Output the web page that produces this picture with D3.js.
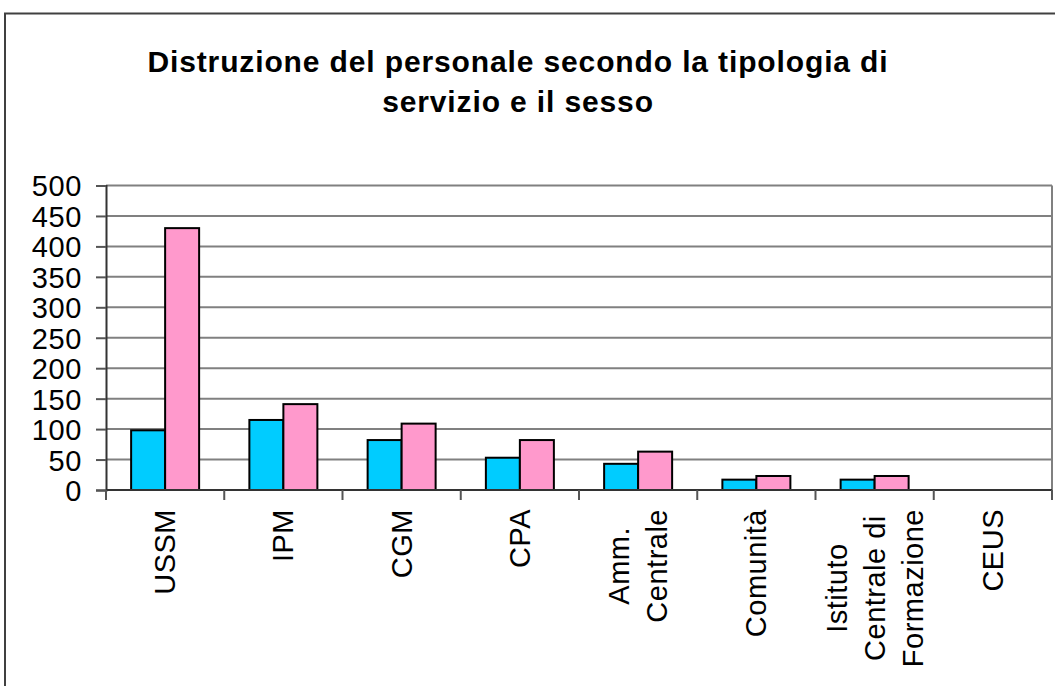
<!DOCTYPE html>
<html>
<head>
<meta charset="utf-8">
<script src="https://cdn.jsdelivr.net/npm/d3@7"></script>
<style>
  body { margin: 0; background: #fff; }
  svg { display: block; font-family: "Liberation Sans", Arial, sans-serif; }
</style>
</head>
<body>
<div id="chart"></div>
<script>
// chart data
var categories = ["USSM", "IPM", "CGM", "CPA", "Amm. Centrale", "Comunità",
                  "Istituto Centrale di Formazione", "CEUS"];
// how each category label wraps
var labelLines = [["USSM"], ["IPM"], ["CGM"], ["CPA"], ["Amm.", "Centrale"],
                  ["Comunità"], ["Istituto", "Centrale di", "Formazione"], ["CEUS"]];
var seriesNames = ["Maschi", "Femmine"];
var maschi  = [98, 115, 82, 53, 43, 17, 17, 0];
var femmine = [430, 141, 109, 82, 63, 23, 23, 0];
var yTicks = [0, 50, 100, 150, 200, 250, 300, 350, 400, 450, 500];
var titleLines = ["Distruzione del personale secondo la tipologia di",
                  "servizio e il sesso"];

var width = 1055, height = 686;
var margin = { top: 185.5, left: 106, right: 3, bottom: 196 };
var colors = { Maschi: "#00ccff", Femmine: "#ff99cc" };

var svg = d3.select("#chart").append("svg")
    .attr("width", width)
    .attr("height", height);

// outer chart border (only top and left show in the frame)
svg.append("path")
    .attr("d", "M5," + (height + 5) + "V13.5H" + (width + 5))
    .attr("fill", "none")
    .attr("stroke", "#404040")
    .attr("stroke-width", 2);

// title
svg.append("text")
    .attr("text-anchor", "middle")
    .attr("font-weight", "bold")
    .attr("font-size", 30)
    .attr("letter-spacing", 0.87)
    .selectAll("tspan")
    .data(titleLines)
    .enter().append("tspan")
    .attr("x", 518)
    .attr("y", function(d, i) { return 72 + i * 40; })
    .text(function(d) { return d; });

var plotW = width - margin.left - margin.right;
var plotH = height - margin.top - margin.bottom;

var g = svg.append("g")
    .attr("transform", "translate(" + margin.left + "," + margin.top + ")");

var x0 = d3.scaleBand().domain(categories).range([0, plotW]).padding(0);
var bw = x0.bandwidth();
var x1 = d3.scaleBand().domain(seriesNames).range([bw / 2 - 34, bw / 2 + 34]).padding(0);
var y = d3.scaleLinear().domain([0, 500]).range([plotH, 0]);

// gridlines
g.selectAll(".grid")
    .data(yTicks.slice(1))
    .enter().append("line")
    .attr("x1", 0).attr("x2", plotW)
    .attr("y1", function(d) { return y(d); })
    .attr("y2", function(d) { return y(d); })
    .attr("stroke", "#808080")
    .attr("stroke-width", 2);

// right plot border
g.append("line")
    .attr("x1", plotW).attr("x2", plotW)
    .attr("y1", 0).attr("y2", plotH)
    .attr("stroke", "#808080")
    .attr("stroke-width", 2);

// y axis
var yAxis = g.append("g")
    .call(d3.axisLeft(y).tickValues(yTicks).tickSize(10).tickPadding(14));
yAxis.select(".domain").attr("stroke", "#333").attr("stroke-width", 2);
yAxis.selectAll(".tick line").attr("stroke", "#555").attr("stroke-width", 2);
yAxis.selectAll(".tick text")
    .attr("font-size", 29)
    .attr("letter-spacing", 0.6)
    .attr("font-family", "Liberation Sans, Arial, sans-serif")
    .attr("fill", "#000")
    .attr("dy", "0.36em");

// bars
var rows = categories.map(function(c, i) {
    return { cat: c, vals: [{ s: "Maschi", v: maschi[i] }, { s: "Femmine", v: femmine[i] }] };
});

var grp = g.selectAll(".cat")
    .data(rows)
    .enter().append("g")
    .attr("class", "cat")
    .attr("transform", function(d) { return "translate(" + x0(d.cat) + ",0)"; });

grp.selectAll("rect")
    .data(function(d) { return d.vals.filter(function(v) { return v.v > 0; }); })
    .enter().append("rect")
    .attr("x", function(d) { return x1(d.s); })
    .attr("width", x1.bandwidth())
    .attr("y", function(d) { return y(d.v); })
    .attr("height", function(d) { return plotH - y(d.v); })
    .attr("fill", function(d) { return colors[d.s]; })
    .attr("stroke", "#000")
    .attr("stroke-width", 2);

// x axis line and category boundary ticks
g.append("line")
    .attr("x1", 0).attr("x2", plotW)
    .attr("y1", plotH).attr("y2", plotH)
    .attr("stroke", "#333")
    .attr("stroke-width", 2);

var bounds = categories.map(function(c) { return x0(c); }).concat([plotW]);
g.selectAll(".xtick")
    .data(bounds)
    .enter().append("line")
    .attr("x1", function(d) { return d; })
    .attr("x2", function(d) { return d; })
    .attr("y1", plotH).attr("y2", plotH + 10)
    .attr("stroke", "#555")
    .attr("stroke-width", 2);

// rotated category labels, lines centred on each other, block top-aligned
var lineH = 38;
var labels = g.selectAll(".xlabel")
    .data(labelLines)
    .enter().append("text")
    .attr("class", "xlabel")
    .attr("font-size", 29)
    .attr("letter-spacing", 0.5)
    .attr("text-anchor", "middle")
    .attr("fill", "#000");

labels.each(function(lines, i) {
    var t = d3.select(this);
    lines.forEach(function(l, j) {
        t.append("tspan")
            .attr("x", 0)
            .attr("y", (j - (lines.length - 1) / 2) * lineH)
            .text(l);
    });
    var maxLen = d3.max(t.selectAll("tspan").nodes(), function(n) { return n.getComputedTextLength(); });
    var cx = x0(categories[i]) + bw / 2 + 10;
    var cy = plotH + 19 + maxLen / 2;
    t.attr("transform", "translate(" + cx + "," + cy + ") rotate(-90)");
});
</script>
</body>
</html>
